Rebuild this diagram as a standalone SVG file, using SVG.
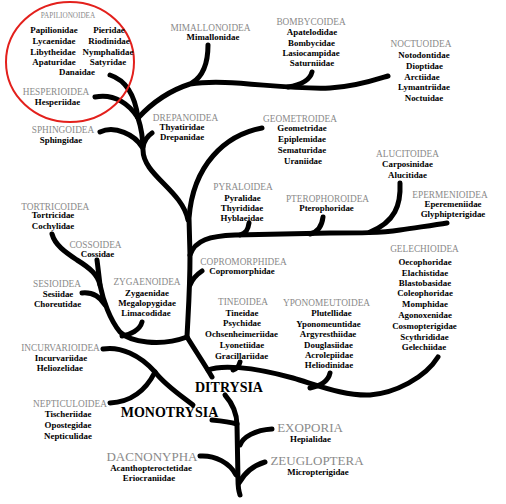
<svg xmlns="http://www.w3.org/2000/svg" width="506" height="504" viewBox="0 0 506 504">
<style>
.sf{font-family:"Liberation Serif","Times New Roman",serif;font-size:9.3px;fill:#8a8a8a;text-anchor:middle}
.fam{font-family:"Liberation Serif","Times New Roman",serif;font-size:8.9px;font-weight:bold;fill:#000;text-anchor:middle}
.big{font-family:"Liberation Serif","Times New Roman",serif;font-size:14px;font-weight:bold;fill:#000;text-anchor:middle}
.bigg{font-family:"Liberation Serif","Times New Roman",serif;font-size:13px;fill:#8a8a8a;text-anchor:middle}
.br{fill:none;stroke:#000;stroke-width:5;stroke-linecap:round;stroke-linejoin:round}
</style>
<rect width="506" height="504" fill="#fff"/>
<g id="connectors">
<path class="br" d="M138,118 C150,105 165,92 190,84 C230,78 280,90 330,88 C355,87 375,80 388,76"/>
<path class="br" d="M208,45 C208,60 205,75 192,83"/>
<path class="br" d="M312,72 C310,80 300,85 288,87"/>
<path class="br" d="M110,75 C125,80 135,95 138,118"/>
<path class="br" d="M95,97 C115,93 130,105 138,118"/>
<path class="br" d="M100,132 C115,125 135,135 142,147"/>
<path class="br" d="M152,133 C146,137 144,142 143,147"/>
<path class="br" d="M138,118 C142,130 143,140 143,150 C143,175 182,190 188,220"/>
<path class="br" d="M262,128 C225,135 193,165 189,218 L190,255 C190,290 188,315 187,337"/>
<path class="br" d="M190,255 C195,240 210,236 235,235 L330,233 C360,233 380,233 400,230 C420,227 435,225 447,223"/>
<path class="br" d="M249,223 C248,230 246,233 240,235"/>
<path class="br" d="M323,217 C322,226 318,232 310,234"/>
<path class="br" d="M400,183 C401,205 395,222 370,232"/>
<path class="br" d="M202,271 C196,275 192,280 190,285"/>
<path class="br" d="M52,234 C55,245 65,252 77,260 C90,268 98,275 100,285 C103,300 110,320 120,332 C130,342 160,347 187,337"/>
<path class="br" d="M97,260 C98,268 99,276 100,285"/>
<path class="br" d="M82,293 C92,292 100,297 105,305"/>
<path class="br" d="M142,322 C140,330 130,335 122,336"/>
<path class="br" d="M187,337 C195,350 205,365 212,377"/>
<path class="br" d="M208,370 C220,365 250,366 293,378 C320,386 345,396 370,395 C395,393 425,378 438,357"/>
<path class="br" d="M240,362 C239,366 237,369 233,370"/>
<path class="br" d="M330,373 C328,382 320,386 310,388"/>
<path class="br" d="M225,395 C232,403 237,412 237,425 L238,480 C238,488 239,492 240,495"/>
<path class="br" d="M212,420 C222,421 230,422 237,424"/>
<path class="br" d="M103,349 C120,346 140,355 155,372 C165,385 180,395 193,405"/>
<path class="br" d="M110,403 C130,402 145,392 155,372"/>
<path class="br" d="M272,429 C255,430 243,437 240,445"/>
<path class="br" d="M200,456 C215,455 230,463 236,475"/>
<path class="br" d="M265,462 C255,465 245,472 239,483"/>
</g>
<ellipse cx="70" cy="62" rx="64" ry="60" fill="none" stroke="#e3201c" stroke-width="2"/>
<g id="papilionoidea">
<text class="sf" x="68" y="18" style="font-size:7.2px">PAPILIONOIDEA</text>
<text class="fam" x="54" y="33">Papilionidae</text><text class="fam" x="109" y="33">Pieridae</text>
<text class="fam" x="54" y="43.5">Lycaenidae</text><text class="fam" x="109" y="43.5">Riodinidae</text>
<text class="fam" x="53" y="54.5">Libytheidae</text><text class="fam" x="108" y="54.5">Nymphalidae</text>
<text class="fam" x="54" y="64.5">Apaturidae</text><text class="fam" x="108" y="64.5">Satyridae</text>
<text class="fam" x="77" y="75">Danaidae</text>
</g>
<g id="hesperioidea"><text class="sf" x="56" y="95">HESPERIOIDEA</text><text class="fam" x="57.5" y="104.5">Hesperiidae</text></g>
<g id="sphingoidea"><text class="sf" x="63" y="133">SPHINGOIDEA</text><text class="fam" x="61" y="143">Sphingidae</text></g>
<g id="mimallonoidea"><text class="sf" x="210.5" y="31">MIMALLONOIDEA</text><text class="fam" x="213" y="40">Mimallonidae</text></g>
<g id="bombycoidea"><text class="sf" x="311" y="25">BOMBYCOIDEA</text><text class="fam" x="312" y="35">Apatelodidae</text><text class="fam" x="311.5" y="45.5">Bombycidae</text><text class="fam" x="311" y="55.5">Lasiocampidae</text><text class="fam" x="312" y="65.5">Saturniidae</text></g>
<g id="noctuoidea"><text class="sf" x="421" y="47">NOCTUOIDEA</text><text class="fam" x="424" y="58">Notodontidae</text><text class="fam" x="424.5" y="69">Dioptidae</text><text class="fam" x="422" y="79.5">Arctiidae</text><text class="fam" x="424" y="90">Lymantriidae</text><text class="fam" x="424" y="100.5">Noctuidae</text></g>
<g id="drepanoidea"><text class="sf" x="185.5" y="121">DREPANOIDEA</text><text class="fam" x="182" y="129.5">Thyatiridae</text><text class="fam" x="182" y="139.5">Drepanidae</text></g>
<g id="geometroidea"><text class="sf" x="300" y="122">GEOMETROIDEA</text><text class="fam" x="302" y="131">Geometridae</text><text class="fam" x="302" y="142">Epiplemidae</text><text class="fam" x="302" y="153">Sematuridae</text><text class="fam" x="303" y="163.5">Uraniidae</text></g>
<g id="alucitoidea"><text class="sf" x="407.5" y="157">ALUCITOIDEA</text><text class="fam" x="407.5" y="167">Carposinidae</text><text class="fam" x="407.5" y="178">Alucitidae</text></g>
<g id="pyraloidea"><text class="sf" x="243" y="189.5">PYRALOIDEA</text><text class="fam" x="242.5" y="201">Pyralidae</text><text class="fam" x="242" y="211">Thyrididae</text><text class="fam" x="242" y="221">Hyblaeidae</text></g>
<g id="pterophoroidea"><text class="sf" x="327.5" y="202">PTEROPHOROIDEA</text><text class="fam" x="326.5" y="211">Pterophoridae</text></g>
<g id="epermenioidea"><text class="sf" x="450" y="198">EPERMENIOIDEA</text><text class="fam" x="453" y="207">Eperemeniidae</text><text class="fam" x="453" y="217">Glyphipterigidae</text></g>
<g id="tortricoidea"><text class="sf" x="55.3" y="209.5">TORTRICOIDEA</text><text class="fam" x="53" y="218">Tortricidae</text><text class="fam" x="53" y="228.5">Cochylidae</text></g>
<g id="cossoidea"><text class="sf" x="95.5" y="247.5">COSSOIDEA</text><text class="fam" x="97.5" y="257">Cossidae</text></g>
<g id="gelechioidea"><text class="sf" x="424.5" y="251.5">GELECHIOIDEA</text><text class="fam" x="425" y="265">Oecophoridae</text><text class="fam" x="425" y="275.5">Elachistidae</text><text class="fam" x="425" y="286">Blastobasidae</text><text class="fam" x="425" y="296">Coleophoridae</text><text class="fam" x="425" y="307">Momphidae</text><text class="fam" x="425" y="318">Agonoxenidae</text><text class="fam" x="424.5" y="328.5">Cosmopterigidae</text><text class="fam" x="424.5" y="339.5">Scythrididae</text><text class="fam" x="424" y="350">Gelechiidae</text></g>
<g id="copromorphoidea"><text class="sf" x="243.5" y="265">COPROMORPHIDEA</text><text class="fam" x="242" y="274">Copromorphidae</text></g>
<g id="sesioidea"><text class="sf" x="57" y="287">SESIOIDEA</text><text class="fam" x="58" y="297">Sesiidae</text><text class="fam" x="57.5" y="307">Choreutidae</text></g>
<g id="zygaenoidea"><text class="sf" x="147" y="285">ZYGAENOIDEA</text><text class="fam" x="147" y="295.5">Zygaenidae</text><text class="fam" x="147" y="305.5">Megalopygidae</text><text class="fam" x="146" y="316">Limacodidae</text></g>
<g id="tineoidea"><text class="sf" x="243" y="305">TINEOIDEA</text><text class="fam" x="242" y="315.5">Tineidae</text><text class="fam" x="242" y="326">Psychidae</text><text class="fam" x="241.5" y="337">Ochsenheimeriidae</text><text class="fam" x="242" y="348">Lyonetiidae</text><text class="fam" x="241.5" y="358.5">Gracillariidae</text></g>
<g id="yponomeutoidea"><text class="sf" x="326.5" y="306">YPONOMEUTOIDEA</text><text class="fam" x="331.5" y="316">Plutellidae</text><text class="fam" x="328.5" y="326.5">Yponomeuntidae</text><text class="fam" x="328" y="337">Argyresthiidae</text><text class="fam" x="328.5" y="347.5">Douglasiidae</text><text class="fam" x="329" y="357.5">Acrolepiidae</text><text class="fam" x="329" y="367.5">Heliodinidae</text></g>
<g id="incurvarioidea"><text class="sf" x="60.5" y="351">INCURVARIOIDEA</text><text class="fam" x="61" y="361">Incurvariidae</text><text class="fam" x="59.8" y="371">Heliozelidae</text></g>
<g id="ditrysia"><text class="big" x="229" y="391.5">DITRYSIA</text></g>
<g id="nepticuloidea"><text class="sf" x="70" y="406.5">NEPTICULOIDEA</text><text class="fam" x="68" y="417">Tischeriidae</text><text class="fam" x="68" y="428">Opostegidae</text><text class="fam" x="68" y="439">Nepticulidae</text></g>
<g id="monotrysia"><text class="big" x="169.5" y="416.5">MONOTRYSIA</text></g>
<g id="exoporia"><text class="bigg" x="310" y="432">EXOPORIA</text><text class="fam" x="310.5" y="441.5">Hepialidae</text></g>
<g id="dacnonypha"><text class="bigg" x="152" y="461">DACNONYPHA</text><text class="fam" x="151" y="471">Acanthopteroctetidae</text><text class="fam" x="149" y="481">Eriocraniidae</text></g>
<g id="zeugloptera"><text class="bigg" x="317" y="464.5">ZEUGLOPTERA</text><text class="fam" x="318" y="475">Micropterigidae</text></g>
</svg>
